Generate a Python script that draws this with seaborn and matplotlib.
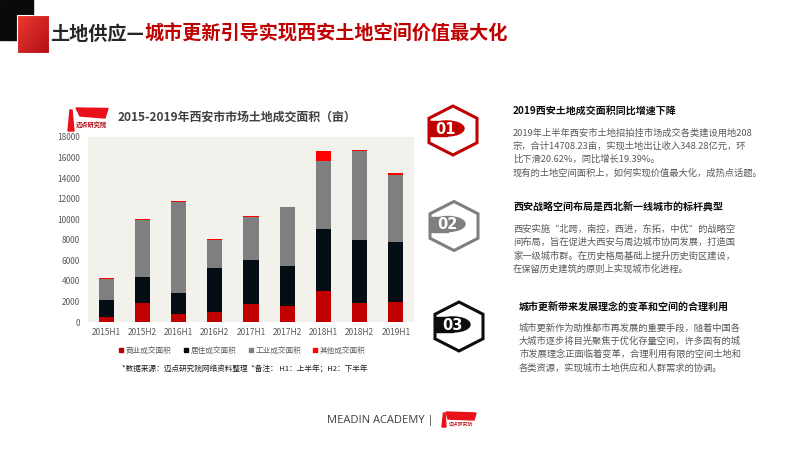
import numpy as np
import pandas as pd
import matplotlib
matplotlib.use("Agg")
import matplotlib.pyplot as plt
import seaborn as sns
from matplotlib.patches import Polygon, Rectangle, Ellipse
from matplotlib.lines import Line2D

# -----------------------------
# Data (unit: 亩)
# -----------------------------
periods = ["2015H1", "2015H2", "2016H1", "2016H2", "2017H1",
           "2017H2", "2018H1", "2018H2", "2019H1"]
commercial = [450, 1880, 780, 940, 1780, 1590, 3050, 1820, 1980]
residential = [1720, 2470, 2070, 4310, 4290, 3890, 6000, 6190, 5770]
industrial = [2010, 5610, 8790, 2700, 4180, 5680, 6650, 8600, 6550]
other = [70, 90, 130, 90, 100, 60, 970, 160, 170]

series_names = ["商业成交面积", "居住成交面积", "工业成交面积", "其他成交面积"]
series_colors = ["#c00000", "#050d14", "#7f7f7f", "#ff0000"]
y_ticks = list(range(0, 18001, 2000))

chart_title = "2015-2019年西安市市场土地成交面积（亩）"
source_note = "*数据来源：迈点研究院网络资料整理  *备注： H1：上半年；H2：下半年"

headings = ["2019西安土地成交面积同比增速下降",
            "西安战略空间布局是西北新一线城市的标杆典型",
            "城市更新带来发展理念的变革和空间的合理利用"]
bodies = [
    ["2019年上半年西安市土地招拍挂市场成交各类建设用地208",
     "宗，合计14708.23亩，实现土地出让收入348.28亿元，环",
     "比下滑20.62%，同比增长19.39%。",
     "现有的土地空间面积上，如何实现价值最大化，成热点话题。"],
    ["西安实施“北跨，南控，西进，东拓，中优”的战略空",
     "间布局，旨在促进大西安与周边城市协同发展，打造国",
     "家一级城市群。在历史格局基础上提升历史街区建设，",
     "在保留历史建筑的原则上实现城市化进程。"],
    ["城市更新作为助推都市再发展的重要手段，随着中国各",
     "大城市逐步将目光聚焦于优化存量空间，许多固有的城",
     "市发展理念正面临着变革，合理利用有限的空间土地和",
     "各类资源，实现城市土地供应和人群需求的协调。"],
]
badges = ["01", "02", "03"]
badge_colors = ["#c00000", "#7f7f7f", "#0d0d0d"]

# -----------------------------
# Build table with cumulative stacks
# -----------------------------
df = pd.DataFrame({"period": periods, "commercial": commercial,
                   "residential": residential, "industrial": industrial,
                   "other": other})
df["c1"] = df["commercial"]
df["c2"] = df["c1"] + df["residential"]
df["c3"] = df["c2"] + df["industrial"]
df["c4"] = df["c3"] + df["other"]

sns.set_theme(style="white")
plt.rcParams["font.family"] = ["Noto Sans CJK SC", "DejaVu Sans"]

fig = plt.figure(figsize=(8, 4.5), dpi=100)
fig.patch.set_facecolor("white")

# background layer in pixel coordinates for the slide decorations
bg = fig.add_axes([0, 0, 1, 1])
bg.set_xlim(0, 800)
bg.set_ylim(450, 0)
bg.axis("off")

# top-left squares
bg.add_patch(Rectangle((0, 0), 33, 40, color="#0a0a0a"))
grad = np.linspace(0, 1, 64)
grad = (grad[None, :] + grad[:, None]) / 2
bg.imshow(grad, cmap=matplotlib.colors.LinearSegmentedColormap.from_list(
    "rg", ["#ec3a30", "#b30f16"]), extent=(17, 49, 53, 15), aspect="auto", zorder=2)
bg.add_patch(Rectangle((17, 15), 32, 38, fill=False, edgecolor="white", lw=0.8, zorder=3))

# page title in two colours
t1 = bg.text(50, 34, "土地供应—", fontsize=13.8, weight="bold", color="#262626", va="center")
fig.canvas.draw()
bb = t1.get_window_extent(fig.canvas.get_renderer())
x_end = bg.transData.inverted().transform((bb.x1, bb.y0))[0]
bg.text(x_end, 34, "城市更新引导实现西安土地空间价值最大化", fontsize=13.8, weight="bold",
        color="#c00000", va="center")

# small logo beside chart title
bg.add_patch(Polygon([(76, 108), (108, 108.5), (105, 118), (80, 116)], color="#e8101a"))
bg.add_patch(Polygon([(68, 131), (70, 110), (72, 110), (74, 131)], color="#e8101a"))
bg.text(91, 125, "迈点研究院", fontsize=4.5, color="#b00010", ha="center", va="center", weight="bold")
bg.text(118, 117, chart_title, fontsize=8.6, weight="bold", color="#404040", va="center")

# -----------------------------
# Stacked bar chart
# -----------------------------
ax = fig.add_axes([88 / 800, 1 - 322 / 450, (414 - 88) / 800, (322 - 137) / 450])
ax.set_facecolor("#f2f1ec")
for col, color in zip(["c4", "c3", "c2", "c1"], series_colors[::-1]):
    sns.barplot(data=df, x="period", y=col, color=color, saturation=1,
                width=0.42, errorbar=None, linewidth=0, ax=ax)
ax.set_xlim(-0.5, 8.5)
ax.set_ylim(0, 18000)
ax.set_yticks(y_ticks)
ax.set_xlabel("")
ax.set_ylabel("")
for s in ax.spines.values():
    s.set_visible(False)
ax.tick_params(axis="both", length=0, labelsize=6, labelcolor="#595959")
ax.tick_params(axis="y", pad=6)
ax.tick_params(axis="x", pad=4)

handles = [Line2D([], [], marker="s", linestyle="", color=c, markersize=3.5) for c in series_colors]
fig.legend(handles, series_names, loc="center", bbox_to_anchor=(241 / 800, 1 - 351 / 450),
           ncol=4, frameon=False, fontsize=5.5, handletextpad=0.0, handlelength=1.2,
           columnspacing=1.3, labelcolor="#595959")
bg.text(245, 369, source_note, fontsize=5.5, color="#1a1a1a", ha="center", va="center")

# -----------------------------
# Right side: numbered hexagons and texts
# -----------------------------
hex_centers = [(453, 130.5), (454, 226), (459, 326.5)]
text_x = [513, 513, 519]
head_y = [111, 207, 306]
for i in range(3):
    cx, cy = hex_centers[i]
    hw, hh = 24, 24.5
    col = badge_colors[i]
    verts = [(cx, cy - hh), (cx + hw, cy - hh / 2), (cx + hw, cy + hh / 2),
             (cx, cy + hh), (cx - hw, cy + hh / 2), (cx - hw, cy - hh / 2)]
    bg.add_patch(Polygon(verts, closed=True, fill=False, edgecolor=col, lw=2.2, joinstyle="miter"))
    bg.add_patch(Rectangle((cx - hw, cy - 9.5), 18, 15, color=col))
    bg.add_patch(Ellipse((cx - 6, cy - 2), 34, 15, color=col))
    bg.text(cx - 7, cy - 1.5, badges[i], fontsize=10.5, weight="bold", color="white",
            ha="center", va="center", family=["DejaVu Sans"])

    bg.text(text_x[i], head_y[i], headings[i], fontsize=7.2, weight="bold",
            color="#0d0d0d", va="center")
    for j, line in enumerate(bodies[i]):
        bg.text(text_x[i], head_y[i] + 22 + j * 13.3, line, fontsize=6.7,
                color="#595959", va="center")

# footer
bg.text(327, 420, "MEADIN ACADEMY |", fontsize=8, color="#404040", va="center",
        family=["Open Sans", "DejaVu Sans"])
bg.add_patch(Polygon([(446, 412), (476, 413), (474, 420), (448, 419)], color="#e8101a"))
bg.add_patch(Polygon([(442, 427), (443.5, 413), (445, 413), (446, 427)], color="#e8101a"))
bg.text(461, 424, "迈点研究院", fontsize=3.5, color="#b00010", ha="center", va="center")

fig.savefig("out.png", dpi=100)
